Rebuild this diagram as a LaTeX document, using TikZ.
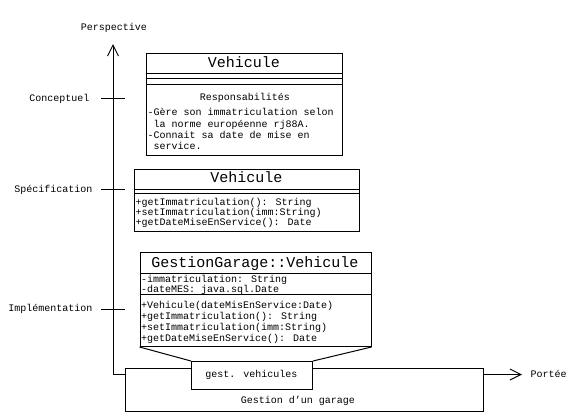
\documentclass[tikz,border=0pt]{standalone}
\usepackage{fontspec}
\setmainfont{Liberation Mono}
\usetikzlibrary{arrows.meta,calc}
\begin{document}
\begin{tikzpicture}[x=1pt,y=-1pt, line width=1pt,
  lbl/.style={font=\fontsize{10}{12}\selectfont, inner sep=0pt},
  ttl/.style={font=\fontsize{15}{17}\selectfont, inner sep=0pt},
  box/.style={draw, fill=white, inner sep=0pt, anchor=north west},
  arr/.style={-{Straight Barb[length=11pt,width=11pt]}},
  tick/.style={line width=1pt}
  ]
\useasboundingbox (0,0) rectangle (584,418);
% axes
\coordinate (o) at (113,374.5);
\coordinate (ptop) at (113,44);
\coordinate (pright) at (522,374.5);
\draw[arr] (o) -- (ptop);
\draw[arr] (o) -- (pright);
\node[lbl, anchor=base] (persp) at (114,30.5) {Perspective};
\node[lbl, anchor=base west] (portee) at (530,377.5) {Portée};
% ticks and levels
\coordinate (t1a) at (101,98);  \coordinate (t1b) at (125,98);
\coordinate (t2a) at (101,189); \coordinate (t2b) at (125,189);
\coordinate (t3a) at (101,309); \coordinate (t3b) at (125,309);
\draw[tick] (t1a) -- (t1b);
\draw[tick] (t2a) -- (t2b);
\draw[tick] (t3a) -- (t3b);
\node[lbl, anchor=base east] (lc) at (90,101) {Conceptuel};
\node[lbl, anchor=base east] (ls) at (93,192) {Spécification};
\node[lbl, anchor=base east] (li) at (93,311.5) {Implémentation};
% box 1 conceptual
\node[box, minimum width=196pt, minimum height=102pt] (b1) at (146,53) {};
\draw (146,73) -- (342,73);
\draw (146,78) -- (342,78);
\draw (146,84) -- (342,84);
\node[ttl, anchor=base] (b1t) at (244,67.5) {Vehicule};
\node[lbl, anchor=base] (b1r) at (245,100) {Responsabilités};
\node[lbl, anchor=base west] (b1l1) at (147,115) {-Gère son immatriculation selon};
\node[lbl, anchor=base west] (b1l2) at (147,127) {\ la norme européenne rj88A.};
\node[lbl, anchor=base west] (b1l3) at (147,138) {-Connait sa date de mise en};
\node[lbl, anchor=base west] (b1l4) at (147,149.5) {\ service.};
% box 2 specification
\node[box, minimum width=225pt, minimum height=62pt] (b2) at (134,169) {};
\draw (134,189) -- (359,189);
\draw (134,193) -- (359,193);
\node[ttl, anchor=base] (b2t) at (246.5,182.5) {Vehicule};
\node[lbl, anchor=base west] (b2o1) at (135,205) {+getImmatriculation(): String};
\node[lbl, anchor=base west] (b2o2) at (135,215.3) {+setImmatriculation(imm:String)};
\node[lbl, anchor=base west] (b2o3) at (135,225.6) {+getDateMiseEnService(): Date};
% box 3 implementation
\node[box, minimum width=231pt, minimum height=94pt] (b3) at (139.5,252) {};
\draw (139.5,273) -- (370.5,273);
\draw (139.5,294) -- (370.5,294);
\node[ttl, anchor=base] (b3t) at (255,267.5) {GestionGarage::Vehicule};
\node[lbl, anchor=base west] (b3a1) at (140.5,282) {-immatriculation: String};
\node[lbl, anchor=base west] (b3a2) at (140.5,292) {-dateMES: java.sql.Date};
\node[lbl, anchor=base west] (b3o1) at (140.5,308) {+Vehicule(dateMisEnService:Date)};
\node[lbl, anchor=base west] (b3o2) at (140.5,319) {+getImmatriculation(): String};
\node[lbl, anchor=base west] (b3o3) at (140.5,330) {+setImmatriculation(imm:String)};
\node[lbl, anchor=base west] (b3o4) at (140.5,341) {+getDateMiseEnService(): Date};
% package
\node[box, minimum width=358pt, minimum height=43pt] (pkg) at (125,368) {};
\node[box, minimum width=121pt, minimum height=28pt] (tab) at (191,361) {};
\node[lbl, anchor=base] (tabt) at (251.5,377.5) {gest. vehicules};
\node[lbl, anchor=base] (pkgt) at (298,403) {Gestion d’un garage};
\draw (b3.south west) -- (tab.north west);
\draw (b3.south east) -- (tab.north east);
\end{tikzpicture}
\end{document}
